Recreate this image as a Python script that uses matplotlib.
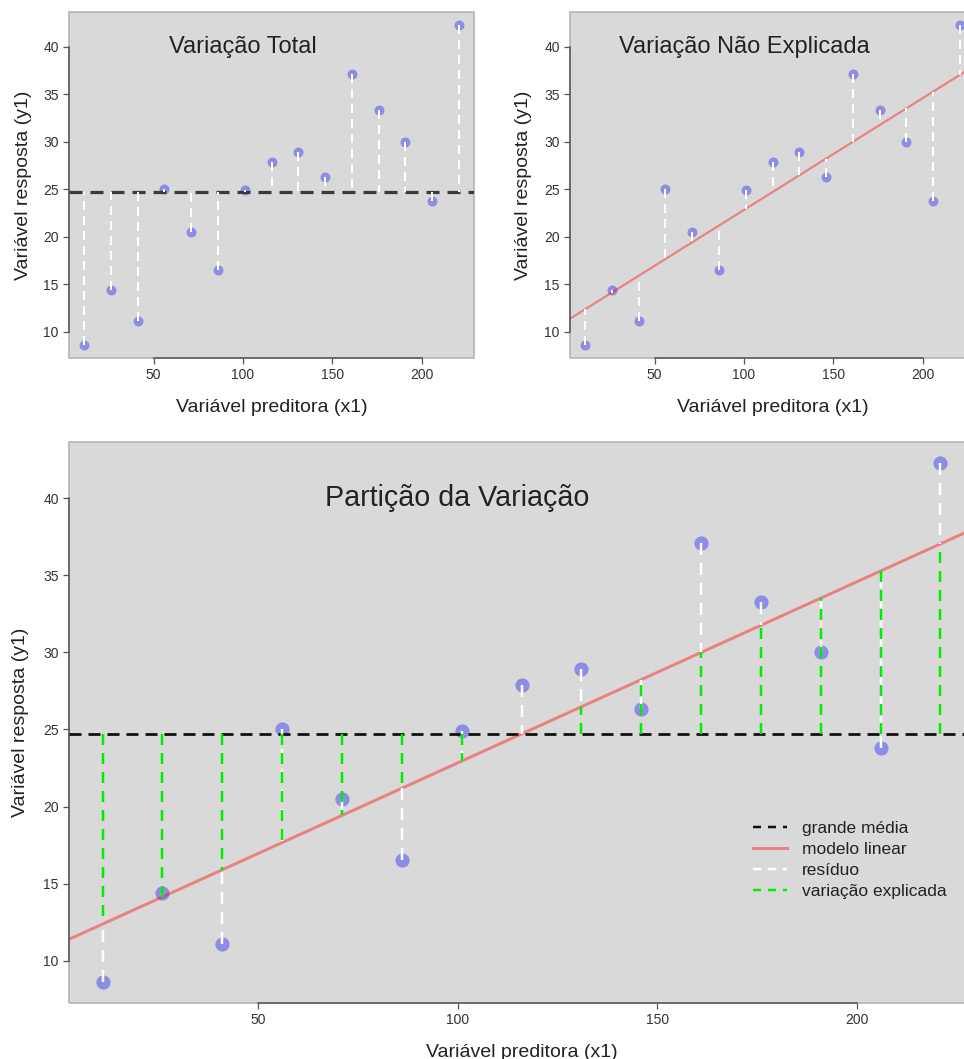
import numpy as np
import matplotlib
matplotlib.use("Agg")
import matplotlib.pyplot as plt
from matplotlib.lines import Line2D
from matplotlib.patches import Rectangle

# dados
x1 = [11, 26, 41, 56, 71, 86, 101, 116, 131, 146, 161, 176, 191, 206, 221]
y1 = [8.6, 14.4, 11.1, 25.0, 20.5, 16.5, 24.9, 27.9, 28.9, 26.3, 37.1, 33.3, 30.0, 23.8, 42.3]
xticks = [50, 100, 150, 200]
yticks = [10, 15, 20, 25, 30, 35, 40]
titulos = ["Variação Total", "Variação Não Explicada", "Partição da Variação"]
leg_labels = ["grande média", "modelo linear", "resíduo", "variação explicada"]
xlab = "Variável preditora (x1)"
ylab = "Variável resposta (y1)"

plt.rcParams["font.family"] = ["Liberation Sans", "DejaVu Sans"]
plt.rcParams["lines.scale_dashes"] = False

x = np.array(x1, float)
y = np.array(y1, float)
media = y.mean()
b, a = np.polyfit(x, y, 1)
ajuste = a + b * x

P = 0.72  # px -> pt at dpi 100
W, H = 964, 1059
fig = plt.figure(figsize=(W / 100, H / 100), dpi=100)


def rect(l, r, t, bt):
    return [l / W, (H - bt) / H, (r - l) / W, (bt - t) / H]


def base(ax, ylab_off, xlab_off=41):
    ax.set_facecolor("#d9d9d9")
    dx, dy = 0.04 * np.ptp(x), 0.04 * np.ptp(y)
    ax.set_xlim(x.min() - dx, x.max() + dx)
    ax.set_ylim(y.min() - dy, y.max() + dy)
    for s in ["top", "right"]:
        ax.spines[s].set_visible(False)
    ax.spines["left"].set_bounds(yticks[0], yticks[-1])
    ax.spines["bottom"].set_bounds(xticks[0], xticks[-1])
    for s in ["left", "bottom"]:
        ax.spines[s].set_color("#555555")
        ax.spines[s].set_linewidth(1.1)
    ax.add_patch(Rectangle((0, 0), 1, 1, transform=ax.transAxes, fill=False,
                           edgecolor="#b4b4b4", lw=1.2, zorder=0.5, clip_on=False))
    ax.set_xticks(xticks)
    ax.set_yticks(yticks)
    ax.tick_params(direction="out", length=6 * P, width=0.9, color="#555555",
                   labelsize=10, labelcolor="#333333", pad=3)
    ax.set_xlabel(xlab, fontsize=14, color="#222222")
    ax.set_ylabel(ylab, fontsize=14, color="#222222")
    ax.xaxis.set_label_coords(0.5, -xlab_off / ax.bbox.height)
    ax.yaxis.set_label_coords(-ylab_off / ax.bbox.width, 0.5)


def fit_line(ax, lw):
    xs = np.array(ax.get_xlim())
    ax.plot(xs, a + b * xs, color="red", alpha=0.4, lw=lw, zorder=3, solid_capstyle="butt")


# painel 1: variação total
ax1 = fig.add_axes(rect(69, 474, 12, 358))
base(ax1, 37)
ax1.scatter(x, y, s=52, color="blue", alpha=0.35, lw=0, zorder=2)
ax1.axhline(media, color="#3a3a3a", lw=3.2 * P, linestyle=(0, (13 * P, 8 * P)), zorder=3)
ax1.vlines(x, y, media, colors="white", lw=2 * P, linestyles=[(0, (9 * P, 6 * P))], zorder=4)
ax1.text(100, 40.0, titulos[0], fontsize=17, color="#222222", ha="center", va="center")

# painel 2: variação não explicada
ax2 = fig.add_axes(rect(570, 975, 12, 358))
base(ax2, 38)
ax2.scatter(x, y, s=52, color="blue", alpha=0.35, lw=0, zorder=2)
fit_line(ax2, 2.2 * P)
ax2.vlines(x, y, ajuste, colors="white", lw=2 * P, linestyles=[(0, (9 * P, 6 * P))], zorder=4)
ax2.text(100, 40.0, titulos[1], fontsize=17, color="#222222", ha="center", va="center")

# painel 3: partição
ax3 = fig.add_axes(rect(69, 974, 442, 1003))
base(ax3, 40)
ax3.scatter(x, y, s=105, color="blue", alpha=0.35, lw=0, zorder=2)
ax3.axhline(media, color="#111111", lw=2.8 * P, linestyle=(0, (12 * P, 7 * P)), zorder=3)
fit_line(ax3, 3 * P)
ax3.vlines(x, y, ajuste, colors="white", lw=2.5 * P, linestyles=[(0, (12 * P, 8 * P))], zorder=4)
ax3.vlines(x, media, ajuste, colors="#00ee00", lw=2.5 * P, linestyles=[(0, (11 * P, 8 * P))], zorder=4)
ax3.text(100, 40.0, titulos[2], fontsize=20.6, color="#222222", ha="center", va="center")

handles = [
    Line2D([], [], color="#111111", lw=2.5 * P, linestyle=(0, (8 * P, 7 * P))),
    Line2D([], [], color="red", alpha=0.4, lw=3 * P),
    Line2D([], [], color="white", lw=2.5 * P, linestyle=(0, (8 * P, 7 * P))),
    Line2D([], [], color="#00ee00", lw=2.5 * P, linestyle=(0, (8 * P, 7 * P))),
]
ax3.legend(handles, leg_labels, loc="upper left", bbox_to_anchor=((753 - 69) / 905, (1003 - 821) / 561),
           frameon=False, fontsize=12.5, handlelength=1.95, handletextpad=0.85,
           labelspacing=0.33, borderpad=0, borderaxespad=0, labelcolor="#222222")

fig.savefig("out.png", dpi=100)
